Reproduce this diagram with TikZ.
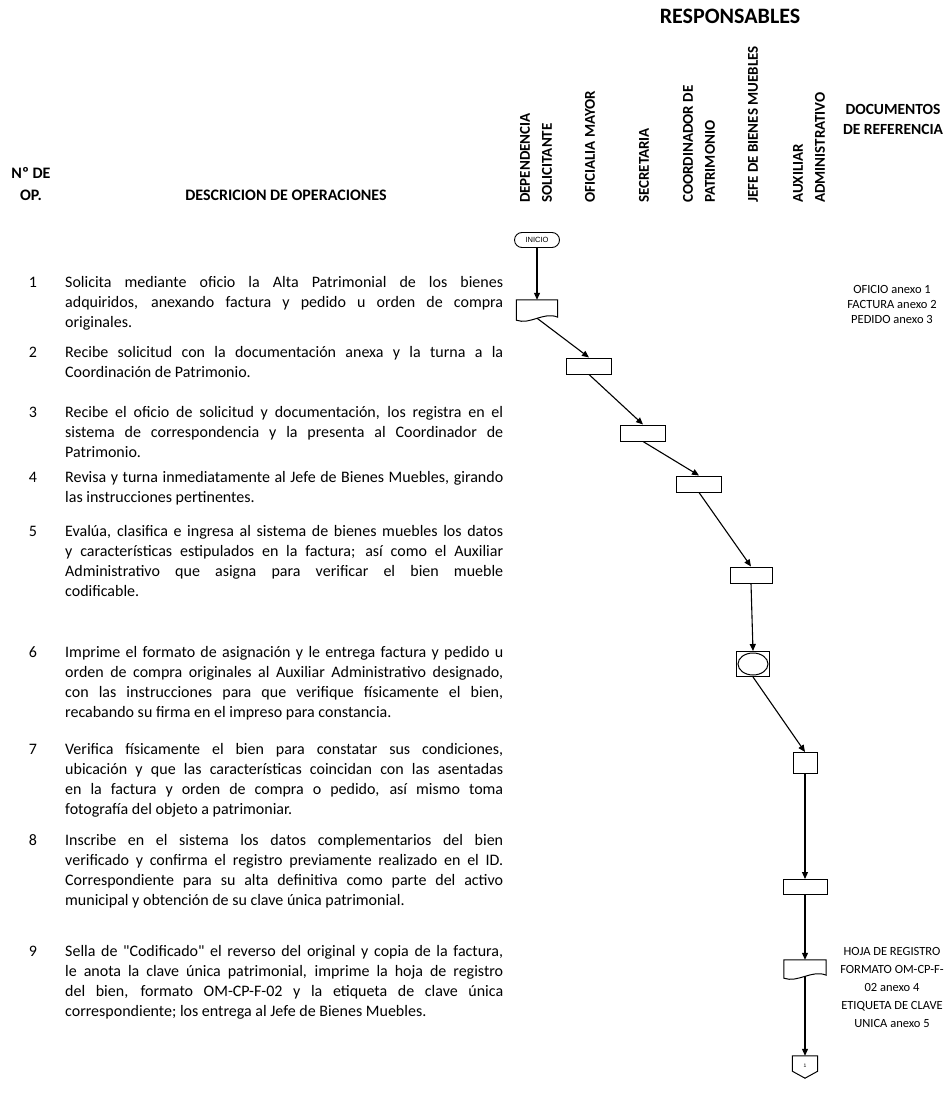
\documentclass[tikz,border=0pt]{standalone}
\usepackage{fontspec}
\setmainfont{Carlito}[Ligatures=TeXOff]
\newfontfamily\arialfont{Liberation Sans}
\usetikzlibrary{arrows.meta}

\newcommand{\jl}[1]{\makebox[438pt][s]{#1}\\}
\newcommand{\docshape}[1]{%
  \draw[line width=1pt] (#1.south west) -- (#1.north west) -- (#1.north east)
    -- ([yshift=3pt]#1.south east) .. controls +(-14,-6) and +(14,5) .. (#1.south west) -- cycle;}

\begin{document}
\begin{tikzpicture}[
    x=1pt, y=-1pt,
    every node/.style={inner sep=0pt},
    head/.style={font=\fontsize{16}{22}\selectfont\bfseries, align=center},
    col/.style={font=\fontsize{15}{22}\selectfont\bfseries, rotate=90, anchor=west, align=left},
    num/.style={font=\fontsize{16}{20.3}\selectfont, anchor=base},
    desc/.style={font=\fontsize{16}{20.3}\selectfont, anchor=base west, text width=438pt, align=left,
      execute at begin node={\spaceskip=0pt\xspaceskip=0pt}},
    docref/.style={font=\fontsize{12.5}{15}\selectfont, align=center},
    term/.style={draw, line width=0.9pt, rounded corners=7.5pt, minimum width=45pt, minimum height=15pt, font=\arialfont\fontsize{7.5}{7.5}\selectfont},
    proc/.style={draw, line width=1pt, minimum width=45pt, minimum height=16pt},
    docbox/.style={minimum width=41pt, minimum height=20pt},
    arr/.style={line width=1.1pt, -{Triangle[length=7pt, width=6pt]}}
  ]
  \useasboundingbox (0,0) rectangle (947,1107);

  \node (resp) [head, font=\fontsize{22}{22}\selectfont\bfseries] at (730,16) {RESPONSABLES};
  \node (nop) [head] at (31,184) {Nº DE\\OP.};
  \node (desc_head) [head] at (286,195) {DESCRICION DE OPERACIONES};
  \node (docs_head) [head, font=\fontsize{15.5}{20}\selectfont\bfseries] at (893,119) {DOCUMENTOS\\DE REFERENCIA};

  \node (c_dep) [col] at (536,203) {DEPENDENCIA\\SOLICITANTE};
  \node (c_ofi) [col] at (590,203) {OFICIALIA MAYOR};
  \node (c_sec) [col] at (644,203) {SECRETARIA};
  \node (c_coo) [col] at (699,203) {COORDINADOR DE\\PATRIMONIO};
  \node (c_jef) [col] at (753,203) {JEFE DE BIENES MUEBLES};
  \node (c_aux) [col] at (809,203) {AUXILIAR\\ADMINISTRATIVO};

  \node (o1) [num] at (33,287) {1};
  \node (t1) [desc] at (65,287) {\jl{Solicita mediante oficio la Alta Patrimonial de los bienes}\jl{adquiridos, anexando factura y pedido u orden de compra}originales.};
  \node (o2) [num] at (33,357) {2};
  \node (t2) [desc] at (65,357) {\jl{Recibe solicitud con la documentación anexa y la turna a la}Coordinación de Patrimonio.};
  \node (o3) [num] at (33,417) {3};
  \node (t3) [desc] at (65,417) {\jl{Recibe el oficio de solicitud y documentación, los registra en el}\jl{sistema de correspondencia y la presenta al Coordinador de}Patrimonio.};
  \node (o4) [num] at (33,482) {4};
  \node (t4) [desc] at (65,482) {\jl{Revisa y turna inmediatamente al Jefe de Bienes Muebles, girando}las instrucciones pertinentes.};
  \node (o5) [num] at (33,536) {5};
  \node (t5) [desc] at (65,536) {\jl{Evalúa, clasifica e ingresa al sistema de bienes muebles los datos}\jl{y características estipulados en la factura; así como el Auxiliar}\jl{Administrativo que asigna para verificar el bien mueble}codificable.};
  \node (o6) [num] at (33,657) {6};
  \node (t6) [desc] at (65,657) {\jl{Imprime el formato de asignación y le entrega factura y pedido u}\jl{orden de compra originales al Auxiliar Administrativo designado,}\jl{con las instrucciones para que verifique físicamente el bien,}recabando su firma en el impreso para constancia.};
  \node (o7) [num] at (33,754) {7};
  \node (t7) [desc] at (65,754) {\jl{Verifica físicamente el bien para constatar sus condiciones,}\jl{ubicación y que las características coincidan con las asentadas}\jl{en la factura y orden de compra o pedido, así mismo toma}fotografía del objeto a patrimoniar.};
  \node (o8) [num] at (33,845) {8};
  \node (t8) [desc] at (65,845) {\jl{Inscribe en el sistema los datos complementarios del bien}\jl{verificado y confirma el registro previamente realizado en el ID.}\jl{Correspondiente para su alta definitiva como parte del activo}municipal y obtención de su clave única patrimonial.};
  \node (o9) [num] at (33,956) {9};
  \node (t9) [desc] at (65,956) {\jl{Sella de "Codificado" el reverso del original y copia de la factura,}\jl{le anota la clave única patrimonial, imprime la hoja de registro}\jl{del bien, formato OM-CP-F-02 y la etiqueta de clave única}correspondiente; los entrega al Jefe de Bienes Muebles.};

  \node (r1) [docref] at (892,304) {OFICIO anexo 1\\FACTURA anexo 2\\PEDIDO anexo 3};
  \node (r9) [docref, font=\fontsize{12.5}{18}\selectfont] at (892,987) {HOJA DE REGISTRO\\FORMATO OM-CP-F-\\02 anexo 4\\ETIQUETA DE CLAVE\\UNICA anexo 5};

  \node (ini) [term] at (537,240) {INICIO};
  \node (n1) [docbox] at (537,310) {};
  \docshape{n1}
  \node (n2) [proc] at (589,366) {};
  \node (n3) [proc] at (643,433) {};
  \node (n4) [proc] at (699,484) {};
  \node (n5) [proc, minimum width=42pt] at (751,575) {};
  \node (n6) [proc, minimum width=33pt, minimum height=25pt] at (753,664) {};
  \draw[line width=1pt] (n6.center) ellipse [x radius=15, y radius=11];
  \node (n7) [proc, minimum width=24pt, minimum height=21pt] at (805,763) {};
  \node (n8) [proc, minimum width=44pt, minimum height=15pt] at (805,887) {};
  \node (n9) [docbox, minimum width=42pt, minimum height=18pt] at (805,969) {};
  \docshape{n9}
  \node (off) [minimum width=25pt, minimum height=22pt, font=\arialfont\fontsize{5}{5}\selectfont] at (805,1067) {\raisebox{3pt}{1}};
  \draw[line width=1pt] (off.north west) -- (off.north east) -- ([yshift=7pt]off.south east)
    -- (off.south) -- ([yshift=7pt]off.south west) -- cycle;

  \draw[arr] (ini.south) -- (n1.north);
  \draw[arr] ([yshift=2pt]n1.south) -- (n2.north);
  \draw[arr] (n2.south) -- (n3.north);
  \draw[arr] (n3.south) -- (n4.north);
  \draw[arr] (n4.south) -- (n5.north);
  \draw[arr] (n5.south) -- (n6.north);
  \draw[arr] (n6.south) -- (n7.north);
  \draw[arr] (n7.south) -- (n8.north);
  \draw[arr] (n8.south) -- (n9.north);
  \draw[arr] ([yshift=2pt]n9.south) -- (off.north);
\end{tikzpicture}
\end{document}
